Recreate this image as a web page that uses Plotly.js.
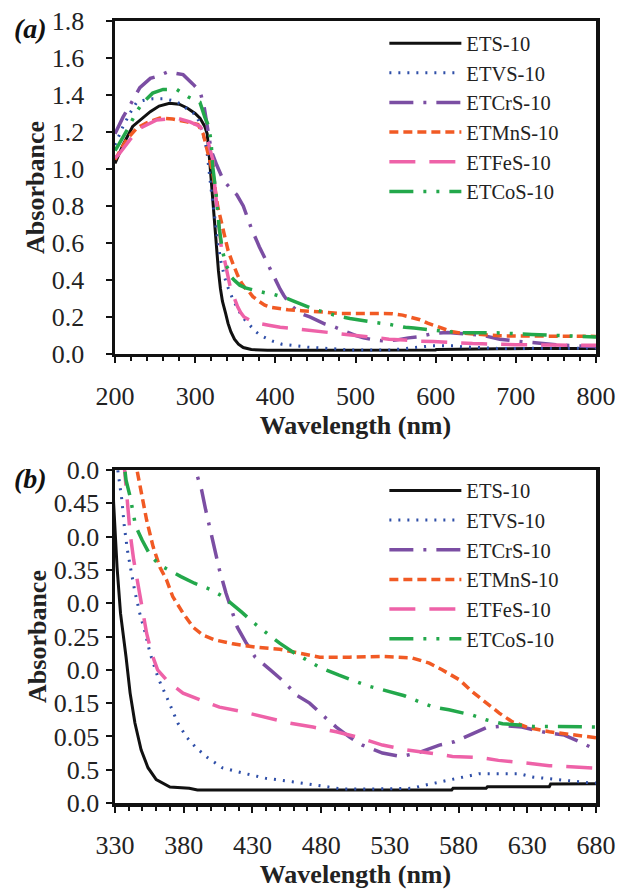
<!DOCTYPE html>
<html>
<head>
<meta charset="utf-8">
<script src="https://cdn.plot.ly/plotly-3.0.1.min.js"></script>
<style>html,body{margin:0;padding:0;background:#fff;}#chart{width:619px;height:890px;}</style>
</head>
<body>
<div id="chart"></div>
<script>
// ---- data ----
const seriesNames = ["ETS-10", "ETVS-10", "ETCrS-10", "ETMnS-10", "ETFeS-10", "ETCoS-10"];

const wlETS = [200,210,222,235,244,255,268,280,290,300,306,312,315,318,322,326,329,331.5,334,338,341,344.5,349,354,360,370,384,390,450,575,576,600,601,646,647,680,720,760,800];
const absETS = [1.03,1.13,1.23,1.28,1.31,1.34,1.355,1.35,1.33,1.30,1.275,1.23,1.19,1.05,0.83,0.6,0.45,0.354,0.285,0.22,0.165,0.12,0.08,0.053,0.035,0.024,0.022,0.0195,0.0195,0.0195,0.022,0.022,0.0245,0.0245,0.0285,0.0285,0.029,0.029,0.03];

const wlETVS = [200,210,221,227,235,247,260,272,283,291,302,306,311,314.6,316,317.6,319.6,321,324,328,332,335,336.7,339,342,344.5,348,351.8,355.5,361.5,368.7,375.7,382,389,397.5,408,423,440,459,476,495.5,513,537,546,556,568,580,595,609,624,633.7,648,662.6,677,700,740,800];
const absETVS = [1.13,1.23,1.32,1.36,1.37,1.38,1.38,1.37,1.35,1.32,1.29,1.24,1.17,1.10,1.03,0.98,0.9,0.85,0.75,0.62,0.5,0.455,0.417,0.38,0.345,0.317,0.285,0.257,0.225,0.187,0.154,0.12,0.099,0.083,0.068,0.053,0.045,0.037,0.032,0.027,0.021,0.021,0.021,0.022,0.027,0.032,0.037,0.044,0.044,0.044,0.039,0.036,0.032,0.03,0.03,0.031,0.032];

const wlETCrS = [200,210,222,231,244,252,266,285,297,306,311,316,320,327,335,343,352,360,370,380,389,393,396,401,406,410.8,415.6,419,425,432,443,453,462,471.6,481,491,500.7,510,524.6,538,550,566,577,588,600,615,626,641,657,668,680,700,720,750,780,800];
const absETCrS = [1.19,1.28,1.37,1.44,1.49,1.50,1.525,1.51,1.46,1.42,1.34,1.19,1.10,1.02,0.94,0.9,0.86,0.80,0.68,0.58,0.497,0.47,0.44,0.395,0.35,0.315,0.287,0.264,0.242,0.219,0.2,0.182,0.162,0.15,0.132,0.114,0.099,0.087,0.075,0.07,0.075,0.087,0.092,0.102,0.113,0.116,0.114,0.107,0.102,0.092,0.08,0.07,0.062,0.05,0.043,0.04];

const wlETMnS = [200,214.6,227,239.6,256,272,289.6,303.5,310,316,322,328,335,341,346,349,353,357.7,362.7,367.5,372,379.5,386.8,394,402.6,415.7,432.6,449.8,464,479,500.6,524.6,546,558.7,568,580.6,590,600,609.6,619,631,646,662.6,680,720,760,800];
const absETMnS = [1.05,1.16,1.22,1.25,1.275,1.27,1.255,1.24,1.19,1.085,0.98,0.8,0.66,0.56,0.5,0.465,0.425,0.385,0.354,0.335,0.31,0.285,0.264,0.252,0.245,0.239,0.234,0.231,0.225,0.219,0.219,0.22,0.218,0.21,0.2,0.185,0.167,0.15,0.135,0.122,0.113,0.107,0.102,0.098,0.097,0.096,0.095];

const wlETFeS = [200,204,219,231,252,277,293.5,306,314.6,322,324.6,329,333,337,339,341,343.6,346,349.7,353,356.6,361,368.6,379.5,391.7,406,423,440,457,474,491,508,524.6,541.8,561,575.6,597,609,629,646,658,672.6,700,750,800];
const absETFeS = [1.06,1.075,1.16,1.22,1.265,1.275,1.255,1.23,1.17,1.05,0.9,0.7,0.56,0.5,0.455,0.405,0.365,0.335,0.29,0.255,0.225,0.2,0.182,0.165,0.155,0.144,0.137,0.129,0.12,0.114,0.107,0.098,0.087,0.08,0.075,0.07,0.068,0.064,0.06,0.056,0.055,0.053,0.05,0.048,0.047];

const wlETCoS = [200,203,215,227,235,247,260,277,291,306,312,316,319.6,322,326,330,334,338,341,342.7,345,349.7,355.6,362.7,368.6,378,387.8,399,408.6,413.5,422,430,437.6,449.8,460.7,469,478.7,493,504,513.7,524.6,540.6,551.5,562,573,590,600,612,624,634,653,665,680,720,760,800];
const absETCoS = [1.10,1.12,1.21,1.31,1.36,1.41,1.43,1.43,1.39,1.36,1.28,1.24,1.16,1.01,0.87,0.68,0.56,0.485,0.46,0.44,0.416,0.395,0.372,0.357,0.35,0.34,0.33,0.321,0.31,0.302,0.287,0.272,0.26,0.24,0.225,0.215,0.204,0.192,0.183,0.176,0.17,0.161,0.152,0.144,0.14,0.132,0.125,0.119,0.117,0.115,0.115,0.115,0.114,0.105,0.097,0.092];

const topXTicks = [200,300,400,500,600,700,800];
const bottomXTicks = [330,380,430,480,530,580,630,680];
const bottomYTickVals = [0,0.05,0.1,0.15,0.2,0.25,0.3,0.35,0.4,0.45,0.5];
const bottomYTickText = ["0.0","0.5","0.05","0.15","0.0","0.25","0.0","0.35","0.0","0.45","0.0"];

// ---- styling ----
const FONT = "'Times New Roman', 'Liberation Serif', Times, serif";
const wls = [wlETS, wlETVS, wlETCrS, wlETMnS, wlETFeS, wlETCoS];
const abss = [absETS, absETVS, absETCrS, absETMnS, absETFeS, absETCoS];
const styles = [
  {color:'#111111', width:3, dash:'solid'},
  {color:'#2f4fa8', width:3, dash:'2px,7px'},
  {color:'#7b4ea3', width:3.5, dash:'24px,10px,3px,10px'},
  {color:'#f15a24', width:3.5, dash:'9px,5px'},
  {color:'#ee62a8', width:3.5, dash:'26px,14px'},
  {color:'#23a84b', width:3.5, dash:'24px,10px,3px,10px,3px,10px'}
];

const traces = [];
seriesNames.forEach((n, i) => {
  traces.push({x: wls[i], y: abss[i], name: n, type:'scatter', mode:'lines',
    line: styles[i], xaxis:'x', yaxis:'y', legend:'legend', cliponaxis:true});
});
seriesNames.forEach((n, i) => {
  traces.push({x: wls[i], y: abss[i], name: n, type:'scatter', mode:'lines',
    line: styles[i], xaxis:'x2', yaxis:'y2', legend:'legend2', cliponaxis:true});
});

const axisCommon = {
  showline:true, mirror:true, linecolor:'#111', linewidth:3.5,
  ticks:'outside', ticklen:6, tickwidth:2, tickcolor:'#111',
  showgrid:false, zeroline:false,
  tickfont:{family:FONT, size:26, color:'#222'}
};
const titleFont = {family:FONT, size:26, color:'#222', weight:'bold'};

const legendCommon = {
  xref:'paper', yref:'paper', xanchor:'left', yanchor:'top',
  bgcolor:'rgba(0,0,0,0)', borderwidth:0,
  font:{family:FONT, size:20.5, color:'#222'},
  itemwidth:72, tracegroupgap:0
};

const layout = {
  width:619, height:890,
  margin:{l:115, r:23, t:21, b:87},
  paper_bgcolor:'#fff', plot_bgcolor:'#fff',
  font:{family:FONT},
  showlegend:true,
  xaxis: Object.assign({}, axisCommon, {
    domain:[0,1], anchor:'y', range:[200,800], tickvals:topXTicks,
    ticklabelstandoff:10,
    minor:{dtick:20, ticks:'outside', ticklen:4, tickwidth:2, tickcolor:'#111'},
    title:{text:'Wavelength (nm)', font:titleFont, standoff:4}
  }),
  yaxis: Object.assign({}, axisCommon, {
    domain:[0.5742,1], anchor:'x', range:[0,1.8], dtick:0.2, tick0:0, tickformat:'.1f',
    ticklabelstandoff:16,
    title:{text:'Absorbance', font:titleFont, standoff:0}
  }),
  xaxis2: Object.assign({}, axisCommon, {
    domain:[0,1], anchor:'y2', range:[330,680], tickvals:bottomXTicks,
    ticklabelstandoff:10,
    minor:{dtick:10, ticks:'outside', ticklen:4, tickwidth:2, tickcolor:'#111'},
    title:{text:'Wavelength (nm)', font:titleFont, standoff:4}
  }),
  yaxis2: Object.assign({}, axisCommon, {
    domain:[0,0.4258], anchor:'x2', range:[0,0.5], tickvals:bottomYTickVals, ticktext:bottomYTickText,
    ticklabelstandoff:1,
    title:{text:'Absorbance', font:titleFont, standoff:0}
  }),
  legend: Object.assign({}, legendCommon, {x:0.56, y:0.997}),
  legend2: Object.assign({}, legendCommon, {x:0.56, y:0.425}),
  annotations:[
    {text:'(a)', xref:'paper', yref:'paper', x:-0.215, y:0.99, xanchor:'left', yanchor:'middle', showarrow:false,
     font:{family:FONT, size:28, color:'#111', weight:'bold', style:'italic'}},
    {text:'(b)', xref:'paper', yref:'paper', x:-0.215, y:0.4155, xanchor:'left', yanchor:'middle', showarrow:false,
     font:{family:FONT, size:28, color:'#111', weight:'bold', style:'italic'}}
  ]
};

Plotly.newPlot('chart', traces, layout, {displayModeBar:false, staticPlot:true});
</script>
</body>
</html>
